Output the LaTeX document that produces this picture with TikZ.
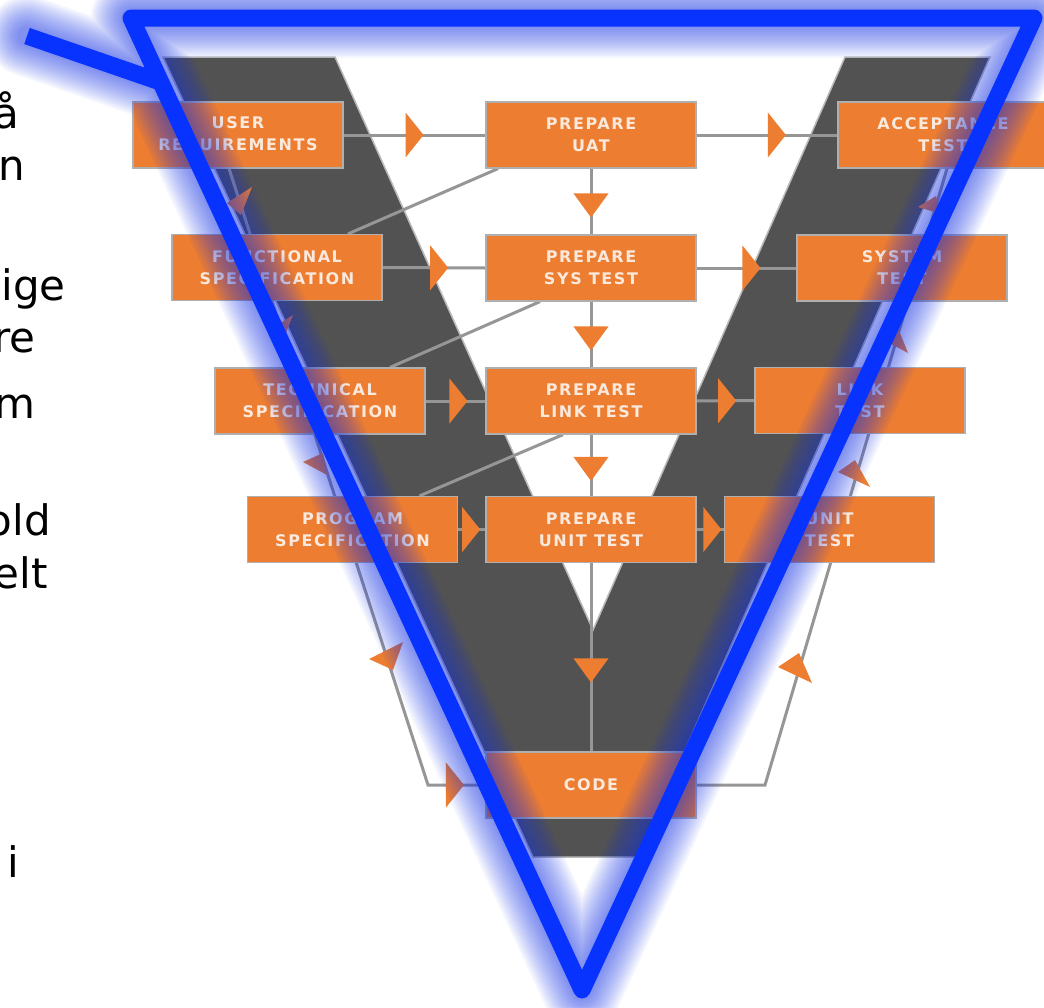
\documentclass[tikz,border=0pt]{standalone}
\usepackage{fontspec}
\setmainfont{DejaVu Sans}
\newfontfamily\boxfont[LetterSpace=10]{DejaVu Sans}
\usetikzlibrary{calc}

\definecolor{vdark}{RGB}{82,82,82}
\definecolor{vedge}{RGB}{185,185,185}
\definecolor{vorange}{RGB}{237,125,49}
\definecolor{linkgray}{RGB}{150,150,150}
\definecolor{boxedge}{RGB}{175,175,175}
\definecolor{boxtext}{RGB}{250,233,220}
\definecolor{vblue}{RGB}{8,51,255}
\definecolor{haloblue}{RGB}{20,50,235}

\pgfdeclarelayer{shapes}
\pgfsetlayers{shapes,main}

\begin{document}
\begin{tikzpicture}[x=1pt,y=-1pt,
  box/.style={draw=boxedge, line width=1.2pt, fill=vorange,
    minimum width=210pt, minimum height=66pt, inner sep=0pt,
    align=center, text=boxtext,
    font=\boxfont\bfseries\fontsize{16}{22}\selectfont},
  link/.style={draw=linkgray, line width=3pt},
  cut/.style={anchor=base east, inner sep=0pt, text=black,
    font=\fontsize{42}{52}\selectfont},
  rtri/.pic={\fill[vorange] (-9,-22.5) -- (9,0) -- (-9,22.5) -- cycle;},
  dtri/.pic={\fill[vorange] (-17.5,-12) -- (17.5,-12) -- (0,12) -- cycle;},
  halo/.style={draw=haloblue, draw opacity=0.045, line join=round, line cap=round},
  frame/.style={draw=vblue, line width=17pt, line join=round},
]

\begin{pgfonlayer}{shapes}
  \fill[white] (0,0) rectangle (1044,1007);
  % dark V band
  \fill[vdark, draw=vedge, line width=1.5pt]
    (163,57) -- (335,57) -- (593,630) -- (845,57) -- (990,57)
    -- (638,857) -- (533,857) -- cycle;
\end{pgfonlayer}
\useasboundingbox (0,0) rectangle (1044,1007);

% partly visible words at the left margin
\node[cut] (t1) at (19,128) {å};
\node[cut] (t2) at (25,180) {n};
\node[cut] (t3) at (66,300) {ige};
\node[cut] (t4) at (36,352) {re};
\node[cut] (t5) at (36,418) {m};
\node[cut] (t6) at (51,535) {old};
\node[cut] (t7) at (48,588) {elt};
\node[cut] (t8) at (19,877) {i};

% boxes
\node[box] (UR)  at (238,135)   {USER\\REQUIREMENTS};
\node[box] (FS)  at (277,267.5) {FUNCTIONAL\\SPECIFICATION};
\node[box] (TS)  at (320,401)   {TECHNICAL\\SPECIFICATION};
\node[box] (PS)  at (352.5,529.5) {PROGRAM\\SPECIFICATION};
\node[box] (UAT) at (591,135)   {PREPARE\\UAT};
\node[box] (SYS) at (591,268)   {PREPARE\\SYS TEST};
\node[box] (LNK) at (591,401)   {PREPARE\\LINK TEST};
\node[box] (UNT) at (591,529.5) {PREPARE\\UNIT TEST};
\node[box] (CODE) at (591,785)  {CODE};
\node[box] (AT)  at (943,135)   {ACCEPTANCE\\TEST};
\node[box] (ST)  at (902,268)   {SYSTEM\\TEST};
\node[box] (LT)  at (860,400.5) {LINK\\TEST};
\node[box] (UTT) at (829.5,529.5) {UNIT\\TEST};

\coordinate (lturn) at (428,785);
\coordinate (rturn) at (765,785);

\begin{pgfonlayer}{shapes}
  % rows
  \draw[link] (UR.east) -- (UAT.west);
  \draw[link] (UAT.east) -- (AT.west);
  \draw[link] (FS.east) -- (SYS.west);
  \draw[link] (SYS.east) -- (ST.west);
  \draw[link] (TS.east) -- (LNK.west);
  \draw[link] (LNK.east) -- (LT.west);
  \draw[link] (PS.east) -- (UNT.west);
  \draw[link] (UNT.east) -- (UTT.west);
  \path ($(UR.east)!0.50!(UAT.west)$) pic {rtri};
  \path ($(UAT.east)!0.57!(AT.west)$) pic {rtri};
  \path ($(FS.east)!0.55!(SYS.west)$) pic {rtri};
  \path ($(SYS.east)!0.55!(ST.west)$) pic {rtri};
  \path ($(TS.east)!0.55!(LNK.west)$) pic {rtri};
  \path ($(LNK.east)!0.53!(LT.west)$) pic {rtri};
  \path ($(PS.east)!0.48!(UNT.west)$) pic {rtri};
  \path ($(UNT.east)!0.58!(UTT.west)$) pic {rtri};
  % centre column
  \draw[link] (UAT.south) -- (SYS.north);
  \draw[link] (SYS.south) -- (LNK.north);
  \draw[link] (LNK.south) -- (UNT.north);
  \draw[link] (UNT.south) -- (CODE.north);
  \path ($(UAT.south)!0.56!(SYS.north)$) pic {dtri};
  \path ($(SYS.south)!0.56!(LNK.north)$) pic {dtri};
  \path ($(LNK.south)!0.56!(UNT.north)$) pic {dtri};
  \path ($(UNT.south)!0.57!(CODE.north)$) pic {dtri};
  % diagonal ties
  \draw[link] ([xshift=71pt]FS.north) -- ([xshift=-93pt]UAT.south);
  \draw[link] ([xshift=70pt]TS.north) -- ([xshift=-51pt]SYS.south);
  \draw[link] ([xshift=67pt]PS.north) -- ([xshift=-28pt]LNK.south);
  % outer return paths
  \draw[link] ([xshift=-9pt]UR.south) -- (lturn) -- (CODE.west);
  \draw[link] ([xshift=4pt]AT.south) -- (rturn) -- (CODE.east);
  \path ($(lturn)!0.47!(CODE.west)$) pic {rtri};
  % flags on the outer paths
  \fill[vorange] (252,187) -- (227,203) -- (241,215) -- cycle;
  \fill[vorange] (293,315) -- (268,331) -- (282,343) -- cycle;
  \fill[vorange] (323,453) -- (303,462) -- (327,475) -- cycle;
  \fill[vorange] (403,642) -- (369,659) -- (393,670) -- cycle;
  \fill[vorange] (936,196) -- (918,207) -- (941,214) -- cycle;
  \fill[vorange] (898,328) -- (880,338) -- (908,353) -- cycle;
  \fill[vorange] (855,460) -- (838,472) -- (870,487) -- cycle;
  \fill[vorange] (799,653) -- (778,667) -- (812,683) -- cycle;
\end{pgfonlayer}

% blue frame with soft glow
\coordinate (tl) at (131,18);
\coordinate (tr) at (1034,18);
\coordinate (bt) at (582,990);
\coordinate (ps) at (27,36);
\coordinate (pj) at ($(tl)!0.066!(bt)$);
\foreach \w in {20,24,...,80}
  \draw[halo, line width=\w pt] (tl) -- (tr) -- (bt) -- cycle (ps) -- (pj);
\draw[frame] (tl) -- (tr) -- (bt) -- cycle (ps) -- (pj);

\end{tikzpicture}
\end{document}
